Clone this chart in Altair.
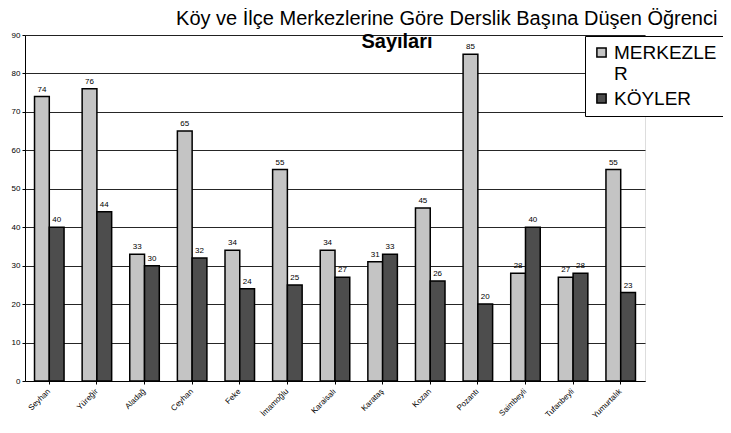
import altair as alt
import pandas as pd

ilceler = ["Seyhan", "Yüreğir", "Aladağ", "Ceyhan", "Feke", "İmamoğlu", "Karaisalı",
           "Karataş", "Kozan", "Pozantı", "Saimbeyli", "Tufanbeyli", "Yumurtalık"]
merkezler = [74, 76, 33, 65, 34, 55, 34, 31, 45, 85, 28, 27, 55]
koyler = [40, 44, 30, 32, 24, 25, 27, 33, 26, 20, 40, 28, 23]
seriler = ["MERKEZLER", "KÖYLER"]
renkler = ["#c4c4c4", "#4d4d4d"]

rows = []
for i, ad in enumerate(ilceler):
    rows.append({"ilce": ad, "seri": seriler[0], "deger": merkezler[i]})
    rows.append({"ilce": ad, "seri": seriler[1], "deger": koyler[i]})
df = pd.DataFrame(rows)

FONT = "Liberation Sans"

x = alt.X("ilce:N", sort=ilceler, title=None,
          scale=alt.Scale(paddingInner=0.38, paddingOuter=0.2),
          axis=alt.Axis(labelAngle=-45, labelAlign="right", labelBaseline="middle",
                        labelFontSize=8, labelColor="black", labelFont=FONT,
                        domainColor="black", tickColor="black", tickSize=3,
                        labelPadding=6))
xo = alt.XOffset("seri:N", sort=seriler)
y = alt.Y("deger:Q", title=None,
          scale=alt.Scale(domain=[0, 90], nice=False),
          axis=alt.Axis(values=list(range(0, 91, 10)), labelFontSize=8, labelColor="black",
                        labelFont=FONT, domainColor="black", tickColor="black", tickSize=3,
                        grid=True, gridColor="black", gridOpacity=0.85, gridWidth=1))

bars = alt.Chart(df).mark_bar(stroke="black", strokeWidth=1.5).encode(
    x=x, xOffset=xo, y=y,
    color=alt.Color("seri:N", sort=seriler, title=None,
                    scale=alt.Scale(domain=seriler, range=renkler),
                    legend=alt.Legend(orient="none", legendX=560, legendY=1,
                                      fillColor="white", strokeColor="black",
                                      padding=7, symbolType="square", symbolSize=85,
                                      symbolStrokeColor="black", symbolStrokeWidth=1.5,
                                      labelFontSize=19, labelFont=FONT, labelColor="black",
                                      labelLimit=200, labelOffset=3,
                                      labelExpr="datum.label == 'MERKEZLER' ? ['MERKEZLE', 'R'] : datum.label",
                                      rowPadding=5))
)

labels = alt.Chart(df).mark_text(dy=-7, fontSize=8, font=FONT, color="black").encode(
    x=x, xOffset=xo, y=y, text="deger:Q"
)

alt_baslik = alt.Chart(pd.DataFrame({"t": ["Sayıları"]})).mark_text(
    fontSize=20, fontWeight="bold", font=FONT, color="black"
).encode(x=alt.value(372), y=alt.value(7), text="t:N")

chart = alt.layer(bars, labels, alt_baslik).properties(
    width=620, height=346,
    title=alt.TitleParams("Köy ve İlçe Merkezlerine Göre Derslik Başına Düşen Öğrenci",
                          anchor="start", dx=165, offset=2, fontSize=20,
                          fontWeight="normal", font=FONT, color="black"),
    autosize=alt.AutoSizeParams(type="none"),
    padding={"left": 17, "top": 27, "right": 78, "bottom": 45},
).configure_view(stroke="black", strokeWidth=1, fill="#e2e2e2").configure(background="white")

chart.save("out.html", embed_options={"renderer": "svg", "actions": False})
